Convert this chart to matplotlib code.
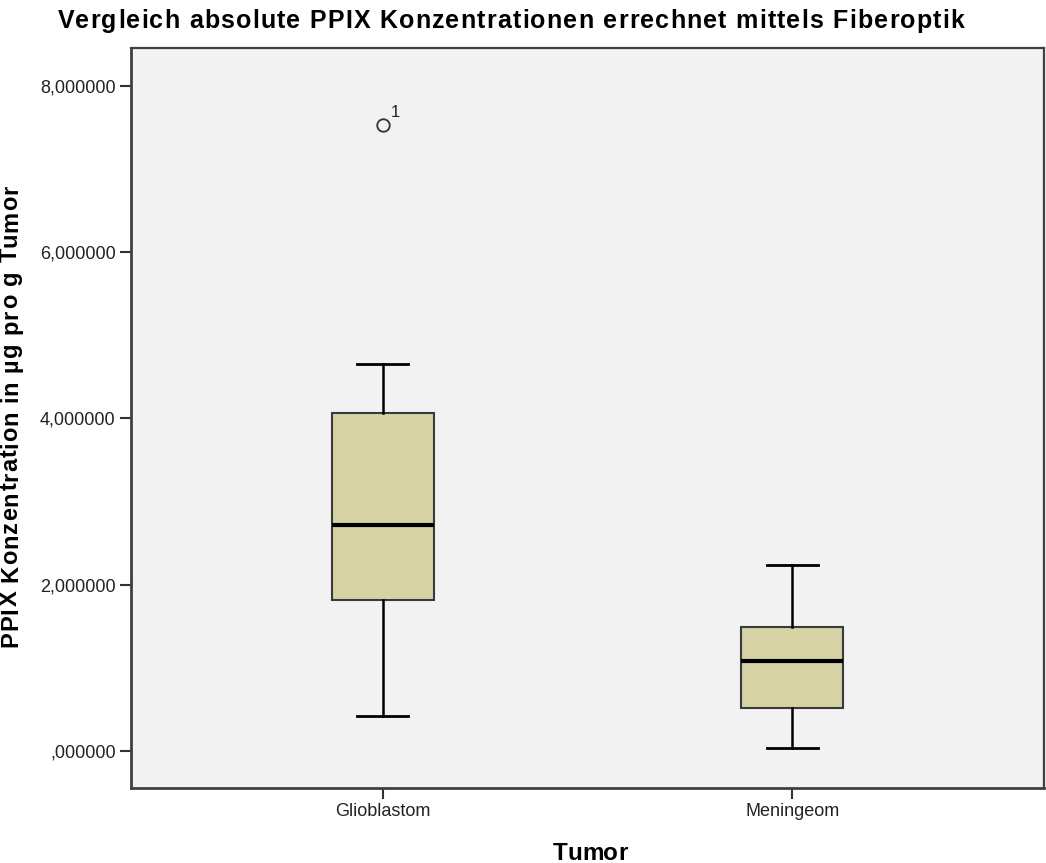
import matplotlib
matplotlib.use("Agg")
import matplotlib.pyplot as plt
from matplotlib.ticker import FuncFormatter
from matplotlib.font_manager import FontProperties, findfont, get_font

# Box statistics
tumors = ["Glioblastom", "Meningeom"]
whisker_low = [0.42, 0.036]
q1 = [1.82, 0.52]
median = [2.72, 1.08]
q3 = [4.07, 1.49]
whisker_high = [4.66, 2.24]
outliers = [[7.53], []]
outlier_ids = [["1"], []]

TITLE = "Vergleich absolute PPIX Konzentrationen errechnet mittels Fiberoptik"
YLABEL = "PPIX Konzentration in µg pro g Tumor"
XLABEL = "Tumor"

W, H = 1046, 863
plt.rcParams['font.family'] = ['Liberation Sans', 'DejaVu Sans']


def spaced_text(fig, center, baseline, s, size, tracking, vertical=False):
    """Bold text with extra letter spacing, positions in pixels from top-left."""
    fp = FontProperties(family='Liberation Sans', weight='bold', size=size)
    font = get_font(findfont(fp))
    font.set_size(size, fig.dpi)
    adv = [font.load_char(ord(c)).linearHoriAdvance / 65536 for c in s]
    total = sum(adv) + tracking * (len(s) - 1)
    offset = 0.0
    for c, a in zip(s, adv):
        if vertical:
            # text runs bottom to top
            fx, fy = baseline / W, 1 - (center + total / 2 - offset) / H
            fig.text(fx, fy, c, fontproperties=fp, rotation=90, rotation_mode='anchor',
                     ha='left', va='baseline', color='black')
        else:
            fx, fy = (center - total / 2 + offset) / W, 1 - baseline / H
            fig.text(fx, fy, c, fontproperties=fp, ha='left', va='baseline', color='black')
        offset += a + tracking


fig = plt.figure(figsize=(W / 100, H / 100), dpi=100)
ax = fig.add_axes([131 / W, 75 / H, 913 / W, 740 / H])
ax.set_facecolor('#F2F2F2')

stats = []
for i, name in enumerate(tumors):
    stats.append({
        'label': name,
        'whislo': whisker_low[i],
        'q1': q1[i],
        'med': median[i],
        'q3': q3[i],
        'whishi': whisker_high[i],
        'fliers': outliers[i],
    })

positions = [1, 2]
ax.bxp(stats, positions=positions, widths=0.25, capwidths=0.125,
       patch_artist=True, showfliers=True,
       boxprops=dict(facecolor='#D6D2A6', edgecolor='#3A3A3A', linewidth=1.5),
       medianprops=dict(color='black', linewidth=3),
       whiskerprops=dict(color='black', linewidth=1.8),
       capprops=dict(color='black', linewidth=2),
       flierprops=dict(marker='o', markerfacecolor='none', markeredgecolor='#333333',
                       markersize=9, markeredgewidth=1.3))

# outlier case labels
for pos, vals, ids in zip(positions, outliers, outlier_ids):
    for v, lab in zip(vals, ids):
        ax.annotate(lab, (pos, v), xytext=(6, 4), textcoords='offset points',
                    fontsize=12, color='#222222', ha='left', va='bottom')

ax.set_xlim(0.385, 2.615)
ax.set_ylim(-0.445, 8.457)
ax.set_yticks([0, 2, 4, 6, 8])


def spss_fmt(v, pos):
    s = f"{v:.6f}".replace('.', ',')
    if s.startswith('0,'):
        s = s[1:]
    return s


ax.yaxis.set_major_formatter(FuncFormatter(spss_fmt))
ax.tick_params(axis='both', direction='out', length=8, width=1.5, color='#333333',
               labelsize=13, labelcolor='#222222', pad=3)

for side in ['left', 'bottom', 'top', 'right']:
    ax.spines[side].set_color('#404040')
    ax.spines[side].set_linewidth(1.6)
ax.spines['left'].set_linewidth(2)
ax.spines['bottom'].set_linewidth(2)

# titles drawn with a little letter spacing like the SPSS output
spaced_text(fig, 511, 28, TITLE, 18, 1.2)
spaced_text(fig, 416, 17, YLABEL, 17, 1.0, vertical=True)
spaced_text(fig, 590, 860, XLABEL, 17.5, 0.0)

fig.savefig("out.png", dpi=100, facecolor='white')
